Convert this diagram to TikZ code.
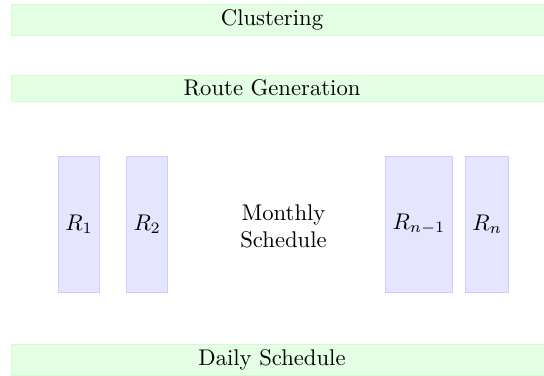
\documentclass[tikz,border=0pt]{standalone}
\begin{document}
\tikzset{every picture/.style={line width=0.4pt}}

\begin{tikzpicture}[x=0.441pt,y=0.441pt,yscale=-1,
  band/.style={fill=green!10,draw=green!20,minimum width=237.9pt,anchor=west,inner sep=0pt},
  route/.style={fill=blue!10,draw=blue!20,minimum height=60pt,inner xsep=3pt}]
%set diagram left start at 0, and has height of 376
\useasboundingbox (0,0) rectangle (544,376);

%Shape: Band [id:clusterband]
\node [band,minimum height=13.9pt] (clusterband) at (10.5,19.75) {};
%Shape: Band [id:routeband]
\node [band,minimum height=11.5pt] (routeband) at (10.5,88) {};
%Shape: Band [id:dailyband]
\node [band,minimum height=13.7pt] (dailyband) at (10.5,360) {};

%Shape: Route [id:r1]
\node [route] (r1) at (79,224.2) {$R_1$};
%Shape: Route [id:r2]
\node [route] (r2) at (147.2,224.2) {$R_2$};
%Shape: Route [id:rnm]
\node [route] (rnm) at (419,224.2) {$R_{n-1}$};
%Shape: Route [id:rn]
\node [route] (rn) at (487.2,224.2) {$R_n$};

% Text Node
\node (cluster) at (272,19.75) {Clustering};
% Text Node
\node (routegen) at (272,88) {Route Generation};
% Text Node
\node [align=center] (monthly) at (283.5,226) {Monthly\\Schedule};
% Text Node
\node (daily) at (272,360) {Daily Schedule};
\end{tikzpicture}
\end{document}
